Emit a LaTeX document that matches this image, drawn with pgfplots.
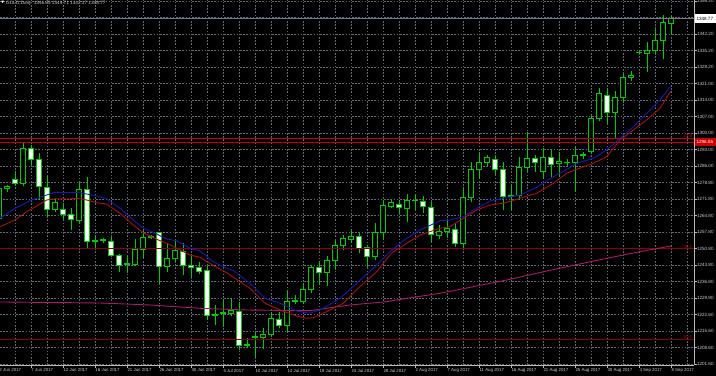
\documentclass[border=0pt]{standalone}
\usepackage{pgfplots}
\pgfplotsset{compat=1.18}
\usepackage{pgfplotstable}
\usepackage{fontspec}
\setmainfont{Liberation Sans}
\newfontfamily\dejavu{DejaVu Sans}
\definecolor{gridc}{RGB}{95,105,120}
\definecolor{cgreen}{RGB}{0,205,0}
\definecolor{mablue}{RGB}{25,25,185}
\definecolor{mared}{RGB}{175,15,15}
\definecolor{mamag}{RGB}{175,25,105}
\definecolor{fibred}{RGB}{135,0,20}
\definecolor{hred}{RGB}{205,0,0}
\definecolor{axc}{RGB}{185,185,185}
\definecolor{txt}{RGB}{205,205,205}
\definecolor{pline}{RGB}{110,120,135}

\pgfplotstableread{
i o h l c
0 1263.7 1278.0 1262.0 1276.5
1 1276.5 1277.9 1275.0 1277.3
2 1280.1 1283.5 1277.6 1278.4
3 1278.6 1296.3 1277.6 1293.5
4 1293.5 1294.9 1286.4 1288.9
5 1288.8 1291.4 1271.5 1277.1
6 1276.9 1281.8 1264.4 1267.5
7 1267.5 1272.0 1266.5 1270.6
8 1267.5 1270.1 1263.5 1265.5
9 1265.4 1267.9 1258.7 1263.0
10 1262.7 1279.3 1261.5 1276.0
11 1276.2 1281.1 1250.9 1253.9
12 1253.9 1256.6 1250.9 1254.3
13 1254.2 1255.4 1253.3 1254.6
14 1253.7 1255.8 1247.1 1248.0
15 1247.9 1248.5 1240.9 1243.8
16 1243.9 1247.6 1240.5 1244.3
17 1244.1 1254.7 1243.5 1250.5
18 1250.5 1258.7 1246.6 1255.6
19 1255.5 1256.6 1254.9 1255.9
20 1257.5 1258.0 1235.7 1243.1
21 1243.1 1253.0 1240.9 1246.6
22 1246.6 1254.4 1245.0 1249.8
23 1249.5 1253.0 1239.5 1243.8
24 1243.8 1248.3 1238.8 1242.9
25 1242.9 1245.0 1239.8 1240.9
26 1241.4 1243.5 1220.4 1222.5
27 1222.3 1226.7 1218.2 1222.8
28 1223.0 1228.9 1217.5 1223.4
29 1223.2 1229.6 1222.0 1224.6
30 1224.2 1228.1 1207.6 1209.4
31 1209.4 1212.6 1208.5 1209.9
32 1212.8 1215.4 1204.7 1213.3
33 1213.0 1216.8 1207.9 1214.0
34 1214.3 1223.9 1213.0 1221.1
35 1220.8 1223.9 1216.8 1217.9
36 1217.9 1233.1 1214.7 1228.2
37 1228.2 1231.0 1227.0 1228.9
38 1228.4 1236.0 1227.0 1233.4
39 1233.4 1243.8 1232.0 1242.8
40 1242.6 1245.2 1235.3 1240.7
41 1240.5 1247.6 1234.8 1245.9
42 1245.6 1254.4 1241.7 1252.3
43 1252.0 1256.6 1250.0 1255.2
44 1254.8 1258.7 1253.0 1256.1
45 1255.8 1257.5 1248.8 1250.9
46 1251.2 1252.3 1242.8 1247.6
47 1247.3 1261.6 1246.0 1257.7
48 1257.7 1271.5 1254.4 1269.3
49 1268.9 1271.5 1268.0 1270.5
50 1269.8 1271.5 1265.8 1268.2
51 1268.0 1274.0 1262.2 1271.5
52 1271.2 1274.0 1267.2 1271.4
53 1270.8 1273.0 1266.0 1268.6
54 1268.4 1270.8 1253.7 1257.0
55 1256.6 1260.8 1255.0 1258.0
56 1258.0 1262.9 1255.2 1259.4
57 1259.1 1261.6 1251.6 1253.0
58 1253.0 1276.5 1251.0 1272.6
59 1272.6 1287.8 1270.8 1284.6
60 1284.6 1292.1 1280.7 1287.5
61 1287.5 1290.6 1286.0 1289.7
62 1288.8 1290.0 1282.0 1284.6
63 1284.6 1287.8 1267.2 1272.9
64 1272.9 1277.9 1267.2 1273.6
65 1273.6 1289.9 1271.5 1285.4
66 1285.4 1300.6 1284.0 1289.2
67 1289.0 1290.6 1283.5 1287.5
68 1283.8 1293.5 1280.4 1289.7
69 1289.5 1292.8 1281.4 1286.8
70 1286.9 1292.1 1281.4 1287.8
71 1287.4 1289.0 1286.0 1287.6
72 1287.5 1294.2 1275.0 1290.3
73 1290.3 1292.0 1289.0 1291.0
74 1292.1 1307.7 1291.0 1306.3
75 1306.3 1319.2 1305.0 1317.1
76 1316.2 1319.0 1304.4 1308.7
77 1308.7 1318.0 1297.8 1315.4
78 1315.4 1325.0 1313.0 1323.5
79 1323.5 1326.5 1322.0 1324.7
80 1334.2 1335.0 1333.5 1334.5
81 1334.0 1338.9 1326.1 1335.4
82 1335.4 1344.2 1334.0 1339.6
83 1339.6 1350.3 1331.4 1347.0
84 1346.85 1349.71 1342.17 1348.77
}\candles

\pgfplotstableread{
x v
0.125 1263.68
2 1267.94
4.09 1271.47
5.96 1273.60
7 1274.75
8.46 1274.58
9.71 1274.75
10.96 1274.03
12.21 1273.18
13.46 1271.90
15.13 1267.94
16.79 1262.95
18.04 1259.42
19.71 1257.00
20.96 1254.86
22.21 1254.13
23.88 1250.89
25.13 1249.74
26.79 1245.18
28.46 1242.37
29.29 1241.35
31.38 1235.98
33.25 1229.59
35.13 1227.46
37.21 1224.18
38.88 1223.20
40.54 1225.33
42.63 1229.59
44.71 1235.98
46.79 1242.37
48.88 1249.45
50.96 1255.16
52.63 1258.69
55.13 1262.66
56.38 1262.95
58.04 1264.36
59.71 1267.94
61.38 1271.05
63.04 1272.20
65.13 1273.60
67.21 1276.88
69.29 1281.40
70.96 1284.55
72.21 1287.11
74.29 1289.24
75.96 1292.78
77.63 1297.76
79.29 1302.70
80.96 1308.42
82.63 1314.08
84 1320.17
}\mablue

\pgfplotstableread{
x v
0.125 1260.10
2 1262.95
3.46 1266.49
4.71 1268.92
5.96 1271.47
7 1272.03
8.46 1271.90
9.91 1272.20
10.96 1271.47
12.21 1270.32
13.46 1269.77
15.13 1265.80
16.79 1260.82
18.04 1257.54
19.71 1254.73
20.96 1253.02
22.21 1250.89
23.88 1248.03
25.13 1247.06
26.79 1243.56
28.46 1240.50
30.13 1236.66
31.38 1233.85
33.25 1227.46
35.13 1224.60
37.21 1222.05
38.46 1221.07
39.29 1221.33
40.96 1223.89
43.04 1227.46
45.13 1234.61
47.21 1240.92
49.04 1248.77
50.96 1253.02
52.63 1256.56
55.13 1259.42
56.38 1260.10
58.04 1263.68
59.71 1267.21
61.38 1269.34
63.04 1270.07
65.13 1272.20
67.21 1274.33
69.29 1278.59
70.96 1282.85
72.21 1284.55
74.29 1287.11
75.96 1289.92
77.63 1297.04
79.29 1301.30
80.96 1305.56
82.63 1310.54
84 1318.04
}\mared

\pgfplotstableread{
x v
0.125 1228.02
6.375 1227.81
12.63 1227.59
18.88 1226.74
25.13 1225.33
30.96 1224.60
38.88 1224.31
41.79 1225.76
43.88 1226.74
48.46 1228.15
50.96 1229.59
55.13 1231.72
63.46 1237.39
69.04 1241.64
75.96 1246.63
80.13 1249.45
84 1251.88
}\mamag

\begin{document}
\begin{tikzpicture}[x=1bp,y=1bp]
\path[use as bounding box, fill=black] (0bp,0bp) rectangle (716bp,376bp);
\begin{axis}[
  at={(0bp,11bp)}, anchor=south west,
  scale only axis, width=694bp, height=365bp,
  xmin=0.125, xmax=86.875, ymin=1201.17, ymax=1356.69,
  axis x line*=bottom, axis y line*=right,
  axis line style={axc, line width=0.8bp},
  tick style={axc, line width=0.6bp, overlay},
  tick align=outside, major tick length=2.5bp, minor tick length=0pt,
  xtick={4,8,...,84},
  xticklabels={7 Jun 2017, 12 Jun 2017, 16 Jun 2017, 21 Jun 2017, 26 Jun 2017, 30 Jun 2017, 5 Jul 2017, 10 Jul 2017, 14 Jul 2017, 19 Jul 2017, 24 Jul 2017, 28 Jul 2017, 2 Aug 2017, 7 Aug 2017, 11 Aug 2017, 16 Aug 2017, 21 Aug 2017, 25 Aug 2017, 30 Aug 2017, 4 Sep 2017, 8 Sep 2017},
  minor xtick={2,6,...,86},
  ytick={1201.60,1208.63,1215.66,1222.69,1229.72,1236.75,1243.78,1250.81,1257.84,1264.87,1271.90,1278.93,1285.96,1292.99,1300.02,1307.05,1314.08,1321.11,1328.14,1335.17,1342.20,1349.23,1356.26},
  yticklabels={1201.60,1208.60,1215.60,1222.60,1229.80,1236.80,1243.80,1250.80,1257.80,1264.80,1271.80,1278.80,1286.00,1293.00,1300.00,1307.00,1314.00,1321.00,1328.20,1335.20,1342.20,{},1356.20},
  xticklabel style={overlay, anchor=north west, inner sep=0pt, xshift=0.3bp, yshift=-1.2bp, text=txt, font=\fontsize{4.4}{5}\selectfont},
  yticklabel style={overlay, anchor=west, inner sep=0pt, xshift=0.3bp, text=txt, font=\fontsize{4.6}{5}\selectfont},
  grid=both,
  major grid style={gridc, line width=0.5bp, dash pattern=on 1.6bp off 1.6bp},
  minor grid style={gridc, line width=0.5bp, dash pattern=on 1.6bp off 1.6bp},
]
% candles
\pgfplotsforeachungrouped \r in {0,...,84}{%
  \pgfplotstablegetelem{\r}{i}\of\candles \let\Ci\pgfplotsretval
  \pgfplotstablegetelem{\r}{o}\of\candles \let\Co\pgfplotsretval
  \pgfplotstablegetelem{\r}{h}\of\candles \let\Ch\pgfplotsretval
  \pgfplotstablegetelem{\r}{l}\of\candles \let\Cl\pgfplotsretval
  \pgfplotstablegetelem{\r}{c}\of\candles \let\Cc\pgfplotsretval
  \pgfmathparse{\Cc>=\Co}%
  \ifdim\pgfmathresult pt>0.5pt \def\Cfill{black}\else\def\Cfill{white}\fi
  \pgfmathsetmacro\Cleft{\Ci-0.29}%
  \pgfmathsetmacro\Cright{\Ci+0.29}%
  \edef\doplot{%
    \noexpand\addplot[cgreen, line width=0.8bp, forget plot] coordinates {(\Ci,\Cl) (\Ci,\Ch)};
    \noexpand\addplot[draw=cgreen, fill=\Cfill, line width=0.8bp, forget plot] coordinates {(\Cleft,\Co) (\Cright,\Co) (\Cright,\Cc) (\Cleft,\Cc)} -- cycle;
  }%
  \doplot
}
% horizontal lines
\addplot[hred, line width=0.9bp, forget plot] coordinates {(0.125,1297.76) (86.875,1297.76)};
\addplot[hred, line width=0.9bp, forget plot] coordinates {(0.125,1296.06) (86.875,1296.06)};
\addplot[fibred, line width=0.8bp, forget plot] coordinates {(0.125,1250.65) (86.875,1250.65)};
\addplot[fibred, line width=0.8bp, forget plot] coordinates {(0.125,1212.12) (86.875,1212.12)};
\addplot[pline, line width=0.7bp, forget plot] coordinates {(0.125,1348.77) (86.875,1348.77)};
% moving averages
\addplot[mamag, line width=0.9bp, forget plot] table[x=x, y=v] {\mamag};
\addplot[mared, line width=0.9bp, forget plot] table[x=x, y=v] {\mared};
\addplot[mablue, line width=0.9bp, forget plot] table[x=x, y=v] {\mablue};
% fib labels
\node[anchor=south east, inner sep=0.3bp, text=hred, font=\fontsize{4.4}{5}\selectfont] at (axis cs:86.7,1297.76) {23.6};
\node[anchor=south east, inner sep=0.3bp, text=hred, font=\fontsize{4.4}{5}\selectfont] at (axis cs:86.7,1250.65) {38.2};
\node[anchor=south east, inner sep=0.3bp, text=hred, font=\fontsize{4.4}{5}\selectfont] at (axis cs:86.7,1212.12) {50.0};
\coordinate (ptag) at (axis cs:86.875,1348.77);
\coordinate (rtag) at (axis cs:86.875,1296.06);
\end{axis}
% price tags
\fill[white] ([xshift=1bp,yshift=-4.2bp]ptag) rectangle ([xshift=22bp,yshift=4.2bp]ptag);
\node[anchor=west, inner sep=0pt, text=black, font=\fontsize{4.6}{5}\selectfont] at ([xshift=2.3bp]ptag) {1348.77};
\fill[hred] ([xshift=1bp,yshift=-4.2bp]rtag) rectangle ([xshift=22bp,yshift=4.2bp]rtag);
\node[anchor=west, inner sep=0pt, text=white, font=\fontsize{4.6}{5}\selectfont] at ([xshift=2.3bp]rtag) {1296.06};
% first date label (partly cut off at the left edge)
\node[anchor=north west, inner sep=0pt, text=txt, font=\fontsize{4.4}{5}\selectfont] at (-0.7bp,7.3bp) {2 Jun 2017};
% header
\node[anchor=north west, inner sep=0pt, text=white, font=\dejavu\fontsize{3.6}{4}\selectfont] at (1.2bp,374.8bp) {▼};
\node[anchor=north west, inner sep=0pt, text=txt, font=\fontsize{4.7}{5}\selectfont] at (6bp,375bp) {GOLD,Daily\ \ 1346.85 1349.71 1342.17 1348.77};
\end{tikzpicture}
\end{document}
